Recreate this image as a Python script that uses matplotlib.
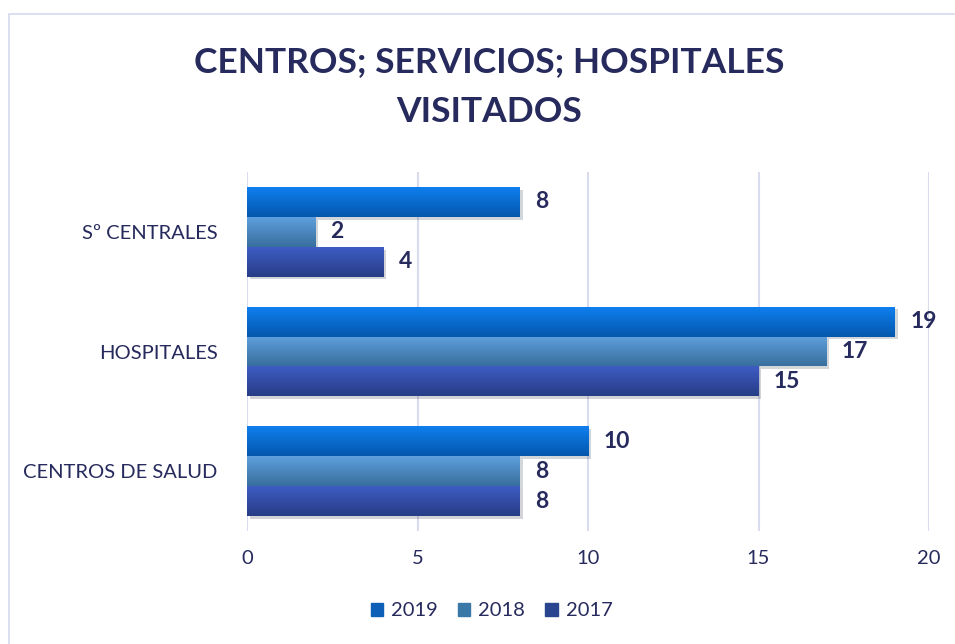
import numpy as np
import matplotlib.pyplot as plt
from matplotlib.patches import Rectangle
from matplotlib.colors import LinearSegmentedColormap
import matplotlib.patheffects as pe

plt.rcParams['font.family'] = ['Lato', 'DejaVu Sans']

# data
categorias = ['CENTROS DE SALUD', 'HOSPITALES', 'Sº CENTRALES']
anios = ['2019', '2018', '2017']
v2019 = [10, 19, 8]
v2018 = [8, 17, 2]
v2017 = [8, 15, 4]
xticks = [0, 5, 10, 15, 20]

navy = '#262a5c'
# (top colour, bottom colour, legend colour)
colores = [('#0f7fee', '#0457ad', '#0d5fb8'),
           ('#5e9fdc', '#386f9e', '#3a78a8'),
           ('#3e5cc4', '#273d86', '#2a4590')]

fig = plt.figure(figsize=(9.55, 6.44), dpi=100)
ax = fig.add_axes([247/955, 1 - 531/644, 682/955, 359/644])

# thin frame round the chart
fig.patches.append(Rectangle((9/955, -0.05), 1.1, 1 - 14/644 + 0.05,
                             transform=fig.transFigure, fill=False,
                             edgecolor='#d6d9ee', linewidth=1.2))

h = 0.25
y = np.arange(len(categorias))
series = [v2019, v2018, v2017]
grad = np.linspace(0, 1, 64).reshape(-1, 1)
for i, vals in enumerate(series):
    pos = y + h - i * h
    bars = ax.barh(pos, vals, height=h, color=colores[i][2], zorder=3,
                   path_effects=[pe.SimplePatchShadow(offset=(2, -2), alpha=0.18),
                                 pe.Normal()])
    cmap = LinearSegmentedColormap.from_list('g%d' % i, [colores[i][0], colores[i][1]])
    for b, v in zip(bars, vals):
        x0, y0 = b.get_x(), b.get_y()
        im = ax.imshow(grad, cmap=cmap, aspect='auto', zorder=4,
                       extent=(x0, x0 + b.get_width(), y0, y0 + b.get_height()),
                       origin='upper')
        im.set_clip_path(b)
        ax.annotate(str(v), (v, y0 + b.get_height() / 2), xytext=(11, 0),
                    textcoords='offset points', va='center', ha='left',
                    fontsize=16.5, fontweight='bold', color=navy, zorder=5)

ax.set_xlim(0, 20)
ax.set_ylim(-0.5, 2.5)
ax.set_xticks(xticks)
ax.set_yticks(y)
ax.set_yticklabels(categorias)
ax.grid(axis='x', color='#d9dcef', linewidth=1.5, zorder=0)
for s in ax.spines.values():
    s.set_visible(False)
ax.tick_params(axis='both', length=0, labelsize=14.5, labelcolor=navy)
ax.tick_params(axis='y', pad=21)
ax.tick_params(axis='x', pad=14)

fig.text(0.512, 1 - 62/644, 'CENTROS; SERVICIOS; HOSPITALES',
         ha='center', va='center', fontsize=25.5, fontweight='bold', color=navy)
fig.text(0.512, 1 - 112/644, 'VISITADOS',
         ha='center', va='center', fontsize=25.5, fontweight='bold', color=navy)

handles = [Rectangle((0, 0), 1, 1, color=c[2]) for c in colores]
fig.legend(handles, anios, loc='center', bbox_to_anchor=(0.515, 1 - 611/644),
           ncol=3, frameon=False, fontsize=14.5, handlelength=0.6,
           handleheight=0.6, handletextpad=0.4, columnspacing=1.0,
           labelcolor=navy)

fig.savefig('out.png', dpi=100)
